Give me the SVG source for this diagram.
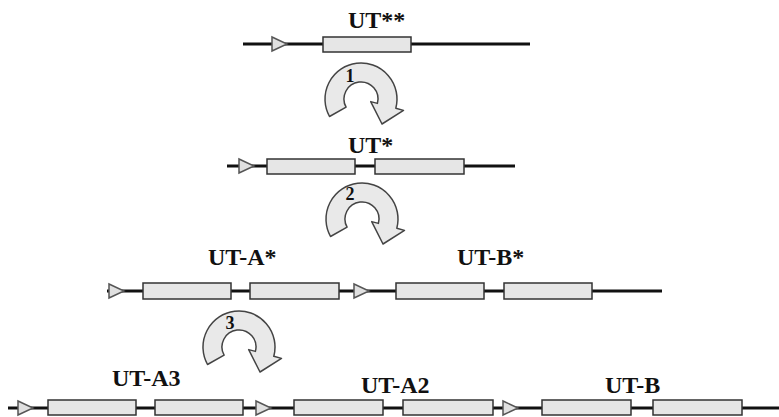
<svg xmlns="http://www.w3.org/2000/svg" width="779" height="417" viewBox="0 0 779 417">
<style>
.ln{stroke:#111;stroke-width:3;fill:none}
.bx{fill:#e6e6e6;stroke:#333;stroke-width:1.5}
.tr{fill:#e0e0e0;stroke:#555;stroke-width:1.5}
.lb{font-family:"Liberation Serif","Times New Roman",serif;font-weight:bold;font-size:24px;fill:#111}
.num{font-family:"Liberation Serif","Times New Roman",serif;font-weight:bold;font-size:18px;fill:#111;text-anchor:middle}
.ar{fill:#e9e9e9;stroke:#444;stroke-width:1.5;stroke-linejoin:round}
</style>
<defs>
<path id="circ" d="M5.5,54.5 A36,36 0 1 1 71.8,46.3 L79.5,48.4 L58,62 L46.7,39.6 L53.4,41.4 A17,17 0 1 0 22.1,45.2 Z"/>
<polygon id="tri" points="0,-7 15,0 0,7"/>
</defs>
<g id="connectors">
<line class="ln" x1="243" y1="44" x2="530" y2="44"/>
<line class="ln" x1="227" y1="166" x2="515" y2="166"/>
<line class="ln" x1="107" y1="291" x2="662" y2="291"/>
<line class="ln" x1="8" y1="408" x2="779" y2="408"/>
</g>
<g id="row1">
<use href="#tri" class="tr" x="272" y="44"/>
<rect class="bx" x="323" y="37" width="88" height="15"/>
<text class="lb" x="348" y="28">UT**</text>
</g>
<g id="arrow1">
<use href="#circ" class="ar" x="324" y="62"/>
<text class="num" x="350" y="82">1</text>
</g>
<g id="row2">
<use href="#tri" class="tr" x="239" y="166"/>
<rect class="bx" x="267" y="159" width="88" height="15"/>
<rect class="bx" x="375" y="159" width="89" height="15"/>
<text class="lb" x="348" y="153">UT*</text>
</g>
<g id="arrow2">
<use href="#circ" class="ar" x="325" y="182"/>
<text class="num" x="350" y="200">2</text>
</g>
<g id="row3">
<use href="#tri" class="tr" x="109" y="291"/>
<use href="#tri" class="tr" x="354" y="291"/>
<rect class="bx" x="143" y="283" width="88" height="16"/>
<rect class="bx" x="250" y="283" width="89" height="16"/>
<rect class="bx" x="396" y="283" width="88" height="16"/>
<rect class="bx" x="504" y="283" width="88" height="16"/>
<text class="lb" x="208" y="265">UT-A*</text>
<text class="lb" x="457" y="265">UT-B*</text>
</g>
<g id="arrow3">
<use href="#circ" class="ar" x="202" y="310"/>
<text class="num" x="230" y="329">3</text>
</g>
<g id="row4">
<use href="#tri" class="tr" x="18" y="408"/>
<use href="#tri" class="tr" x="256" y="408"/>
<use href="#tri" class="tr" x="503" y="408"/>
<rect class="bx" x="48" y="400" width="88" height="15"/>
<rect class="bx" x="155" y="400" width="88" height="15"/>
<rect class="bx" x="294" y="400" width="89" height="15"/>
<rect class="bx" x="403" y="400" width="90" height="15"/>
<rect class="bx" x="542" y="400" width="89" height="15"/>
<rect class="bx" x="653" y="400" width="89" height="15"/>
<text class="lb" x="112" y="386">UT-A3</text>
<text class="lb" x="361" y="393">UT-A2</text>
<text class="lb" x="605" y="393">UT-B</text>
</g>
</svg>
